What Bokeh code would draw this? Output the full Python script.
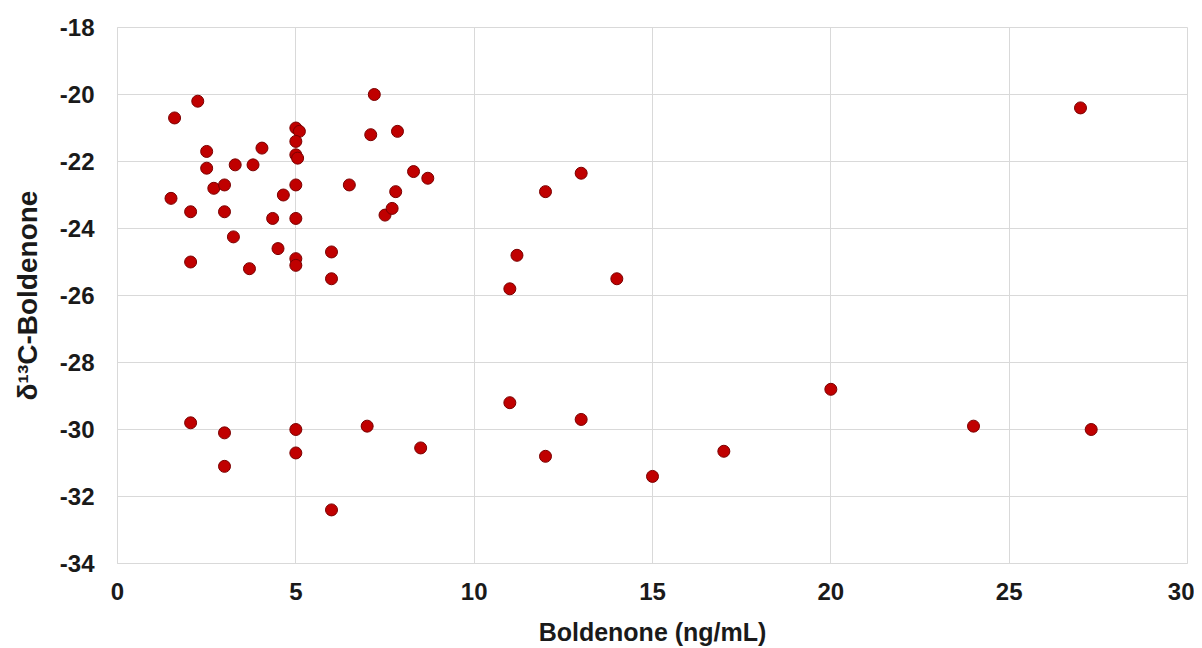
from bokeh.plotting import figure
from bokeh.models import Range1d, FixedTicker, ColumnDataSource, CustomJSTickFormatter
from bokeh.embed import file_html
from bokeh.resources import INLINE

boldenone = [1.5, 1.6, 2.25, 2.05, 2.05, 2.5, 2.5, 2.7, 3.0, 3.0, 3.25, 3.3, 3.7, 3.8,
             4.05, 4.35, 4.5, 4.65, 5.0, 5.1, 5.0, 5.0, 5.05, 5.0, 5.0, 5.0, 5.0, 6.0,
             6.0, 6.5, 7.1, 7.2, 7.5, 7.7, 7.8, 7.85, 8.3, 8.7, 11.0, 11.2, 12.0, 13.0,
             14.0, 27.0,
             2.05, 3.0, 3.0, 5.0, 5.0, 6.0, 7.0, 8.5, 11.0, 12.0, 13.0, 15.0, 17.0,
             20.0, 24.0, 27.3]
delta13c = [-23.1, -20.7, -20.2, -23.5, -25.0, -21.7, -22.2, -22.8, -22.7, -23.5, -24.25,
            -22.1, -25.2, -22.1, -21.6, -23.7, -24.6, -23.0, -21.0, -21.1, -21.4, -21.8,
            -21.9, -22.7, -23.7, -24.9, -25.1, -24.7, -25.5, -22.7, -21.2, -20.0, -23.6,
            -23.4, -22.9, -21.1, -22.3, -22.5, -25.8, -24.8, -22.9, -22.35, -25.5, -20.4,
            -29.8, -30.1, -31.1, -30.0, -30.7, -32.4, -29.9, -30.55, -29.2, -30.8, -29.7,
            -31.4, -30.65, -28.8, -29.9, -30.0]

x_ticks = [0, 5, 10, 15, 20, 25, 30]
y_ticks = [-34, -32, -30, -28, -26, -24, -22, -20, -18]

src = ColumnDataSource(dict(x=boldenone, y=delta13c))

p = figure(width=1194, height=648, output_backend="svg", toolbar_location=None,
           x_range=Range1d(0, 30), y_range=Range1d(-34, -18),
           min_border_left=117, min_border_right=7, min_border_top=27, min_border_bottom=83)

p.scatter("x", "y", source=src, size=12, fill_color="#c00000", line_color="#7a0000", line_width=1)

grid_col = "#d9d9d9"
p.outline_line_color = grid_col
p.xgrid.grid_line_color = grid_col
p.ygrid.grid_line_color = grid_col
p.xaxis.ticker = FixedTicker(ticks=x_ticks)
p.yaxis.ticker = FixedTicker(ticks=y_ticks)

fmt = CustomJSTickFormatter(code="return String(tick);")
for ax in (p.xaxis, p.yaxis):
    ax.formatter = fmt
    ax.axis_line_color = grid_col
    ax.major_tick_line_color = None
    ax.minor_tick_line_color = None
    ax.major_tick_out = 0
    ax.major_tick_in = 0
    ax.minor_tick_out = 0
    ax.major_label_text_font = "Liberation Sans"
    ax.major_label_text_font_style = "bold"
    ax.major_label_text_font_size = "24px"
    ax.major_label_text_color = "#1a1a1a"
    ax.axis_label_text_font = "Liberation Sans"
    ax.axis_label_text_font_style = "bold"
    ax.axis_label_text_color = "#1a1a1a"

p.xaxis.axis_label = "Boldenone (ng/mL)"
p.yaxis.axis_label = "δ¹³C-Boldenone"
p.xaxis.axis_label_text_font_size = "25px"
p.yaxis.axis_label_text_font_size = "28px"
p.xaxis.major_label_standoff = 19
p.yaxis.major_label_standoff = 23
p.xaxis.axis_label_standoff = 15
p.yaxis.axis_label_standoff = 14

open("out.html", "w").write(file_html(p, INLINE))
